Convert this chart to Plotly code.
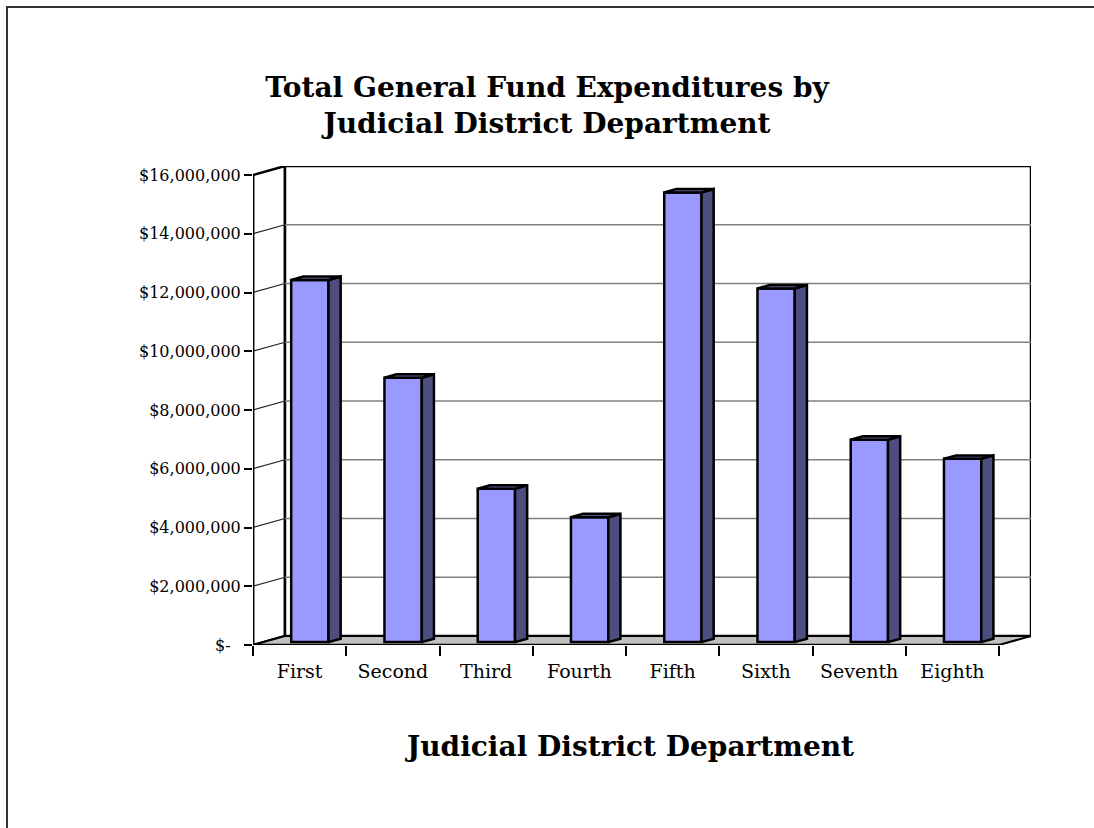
import plotly.graph_objects as go

# ---------------- data ----------------
categories = ["First", "Second", "Third", "Fourth", "Fifth", "Sixth", "Seventh", "Eighth"]
expenditures = [12330000, 9000000, 5220000, 4250000, 15310000, 12040000, 6890000, 6240000]
y_tick_values = [0, 2000000, 4000000, 6000000, 8000000, 10000000, 12000000, 14000000, 16000000]
y_tick_labels = ["$-\u00a0\u00a0", "$2,000,000", "$4,000,000", "$6,000,000", "$8,000,000",
                 "$10,000,000", "$12,000,000", "$14,000,000", "$16,000,000"]
title_text = "Total General Fund Expenditures by<br>Judicial District Department"
x_title_text = "Judicial District Department"

# ---------------- layout constants ----------------
W, H = 1094, 828
L, R, T, B = 253, 63, 166, 183
n = len(categories)
VMAX = y_tick_values[-1]
DX = 0.343          # depth offset (category units)
DV = 307000         # depth offset (value units)
F1, F2 = 0.32, 0.70 # bar depth span (fraction of floor depth)
BW = 0.40           # bar width (category units)

FRONT = "#9999FF"
SIDE = "#4D4D80"
TOP = "#58588F"
FLOOR = "#C0C0C0"
FONT = "DejaVu Serif"

pw, ph = W - L - R, H - T - B


def px2paper_x(px):
    return (px - L) / pw


def px2paper_y(py):
    return (H - B - py) / ph


fig = go.Figure()
shapes = []


def poly_path(xs, ys):
    return "M " + " L ".join(f"{x},{y}" for x, y in zip(xs, ys)) + " Z"


# left wall
shapes.append(dict(type="path", xref="x", yref="y", layer="below",
                   path=poly_path([0, DX, DX, 0], [0, DV, VMAX + DV, VMAX]),
                   fillcolor="white", line=dict(color="black", width=2.5)))
# back wall
shapes.append(dict(type="path", xref="x", yref="y", layer="below",
                   path=poly_path([DX, n + DX, n + DX, DX], [DV, DV, VMAX + DV, VMAX + DV]),
                   fillcolor="white", line=dict(color="black", width=2.5)))
# floor
shapes.append(dict(type="path", xref="x", yref="y", layer="below",
                   path=poly_path([0, n, n + DX, DX], [0, 0, DV, DV]),
                   fillcolor=FLOOR, line=dict(color="black", width=2)))
# gridlines
for v in y_tick_values[1:-1]:
    shapes.append(dict(type="line", xref="x", yref="y", layer="below",
                       x0=DX, x1=n + DX, y0=v + DV, y1=v + DV,
                       line=dict(color="#808080", width=1.5)))
    shapes.append(dict(type="line", xref="x", yref="y", layer="below",
                       x0=0, x1=DX, y0=v, y1=v + DV,
                       line=dict(color="#202020", width=1.2)))
# re-draw strong edges on top of gridlines
shapes.append(dict(type="line", xref="x", yref="y", layer="below",
                   x0=0, x1=0, y0=0, y1=VMAX, line=dict(color="black", width=2.5)))
shapes.append(dict(type="line", xref="x", yref="y", layer="below",
                   x0=0, x1=n, y0=0, y1=0, line=dict(color="black", width=2.5)))

# outer chart frame (left and top edges)
shapes.append(dict(type="line", xref="paper", yref="paper",
                   x0=px2paper_x(7), x1=px2paper_x(7), y0=px2paper_y(6), y1=px2paper_y(H + 5),
                   line=dict(color="#333333", width=2)))
shapes.append(dict(type="line", xref="paper", yref="paper",
                   x0=px2paper_x(6), x1=px2paper_x(W + 20), y0=px2paper_y(7), y1=px2paper_y(7),
                   line=dict(color="#333333", width=2)))

# front faces as real bars
x_front = [i + 0.5 + F1 * DX for i in range(n)]
fig.add_trace(go.Bar(x=x_front, y=expenditures, base=[F1 * DV] * n, width=BW,
                     marker=dict(color=FRONT, line=dict(color="black", width=2.5)),
                     hoverinfo="skip", showlegend=False, cliponaxis=False))

# side and top faces
ddx = (F2 - F1) * DX
ddv = (F2 - F1) * DV
for i, v in enumerate(expenditures):
    x0 = x_front[i] - BW / 2
    x1 = x_front[i] + BW / 2
    yb = F1 * DV
    yt = v + F1 * DV
    fig.add_trace(go.Scatter(x=[x1, x1 + ddx, x1 + ddx, x1, x1],
                             y=[yb, yb + ddv, yt + ddv, yt, yb],
                             mode="lines", fill="toself", fillcolor=SIDE,
                             line=dict(color="black", width=2.5),
                             hoverinfo="skip", showlegend=False, cliponaxis=False))
    fig.add_trace(go.Scatter(x=[x0, x1, x1 + ddx, x0 + ddx, x0],
                             y=[yt, yt, yt + ddv, yt + ddv, yt],
                             mode="lines", fill="toself", fillcolor=TOP,
                             line=dict(color="black", width=2.5),
                             hoverinfo="skip", showlegend=False, cliponaxis=False))

fig.update_layout(
    width=W, height=H,
    margin=dict(l=L, r=R, t=T, b=B),
    paper_bgcolor="white", plot_bgcolor="white",
    barmode="overlay",
    shapes=shapes,
    font=dict(family=FONT, color="black", size=15),
    title=dict(text="<b>" + title_text + "</b>", x=0.5, xref="container", xanchor="center",
               y=1 - 97 / H, yref="container", yanchor="middle",
               font=dict(family=FONT, size=28, color="black")),
    xaxis=dict(range=[0, n + DX], tickmode="array",
               tickvals=[i + 0.5 for i in range(n)], ticktext=categories,
               ticks="", showline=False, showgrid=False, zeroline=False,
               ticklabelstandoff=13, tickfont=dict(family=FONT, size=19),
               minor=dict(tickmode="array", tickvals=list(range(n + 1)), ticks="outside",
                          ticklen=10, tickwidth=1.5, tickcolor="black", showgrid=False),
               fixedrange=True),
    yaxis=dict(range=[0, VMAX + DV], tickmode="array", tickvals=y_tick_values,
               ticktext=y_tick_labels, ticks="outside", ticklen=8, tickwidth=1.5,
               tickcolor="black", showline=False, showgrid=False, zeroline=False,
               tickfont=dict(family=FONT, size=16), fixedrange=True),
    annotations=[dict(text="<b>" + x_title_text + "</b>", xref="paper", yref="paper",
                      x=px2paper_x(629), y=px2paper_y(746), xanchor="center", yanchor="middle",
                      showarrow=False, font=dict(family=FONT, size=28, color="black"))],
)

fig.write_html("out.html")
